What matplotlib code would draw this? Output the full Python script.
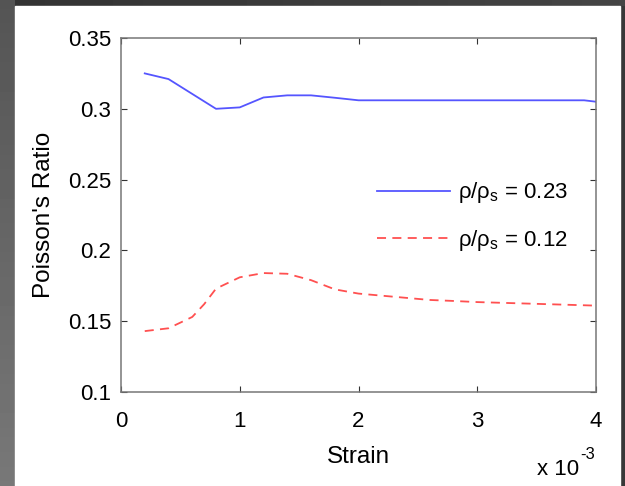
import matplotlib
matplotlib.use('Agg')
import matplotlib.pyplot as plt
import numpy as np
from matplotlib.patches import Rectangle

plt.rcParams['font.family'] = ['Liberation Sans', 'DejaVu Sans']
plt.rcParams['mathtext.fontset'] = 'custom'
plt.rcParams['mathtext.rm'] = 'Liberation Sans'
plt.rcParams['mathtext.it'] = 'Liberation Sans'

# strain in units of 1e-3
strain_hi = [0.2, 0.4, 0.6, 0.8, 1.0, 1.2, 1.4, 1.6, 1.8, 2.0, 2.2, 2.5, 3.0, 3.5, 3.9, 4.0]
poisson_hi = [0.325, 0.321, 0.3105, 0.300, 0.301, 0.308, 0.3095, 0.3095, 0.3078, 0.306,
              0.306, 0.306, 0.306, 0.306, 0.306, 0.305]

strain_lo = [0.2, 0.4, 0.6, 0.7, 0.8, 1.0, 1.2, 1.4, 1.6, 1.8, 2.0, 2.2, 2.4, 2.6, 2.8,
             3.0, 3.2, 3.4, 3.6, 3.8, 4.0]
poisson_lo = [0.143, 0.145, 0.153, 0.162, 0.173, 0.181, 0.184, 0.1835, 0.179, 0.1725,
              0.1695, 0.168, 0.1665, 0.165, 0.1643, 0.1635, 0.163, 0.1625, 0.162, 0.1615, 0.161]

labels = [r'$\mathregular{\rho/\rho_s}$ = 0.23', r'$\mathregular{\rho/\rho_s}$ = 0.12']
xticks = [0, 1, 2, 3, 4]
yticks = [0.1, 0.15, 0.2, 0.25, 0.3, 0.35]
ytick_labels = ['0.1', '0.15', '0.2', '0.25', '0.3', '0.35']

W, H = 625, 486
fig = plt.figure(figsize=(W / 100, H / 100), dpi=100, facecolor='#383838')

# slide background
bg = fig.add_axes([0, 0, 1, 1], zorder=-10)
bg.axis('off')
grad = np.linspace(0.33, 0.47, 100).reshape(-1, 1)
bg.imshow(grad, cmap='gray', vmin=0, vmax=1, extent=(0, 15, H, 0), aspect='auto')
bg.imshow(np.linspace(0.2, 0.27, 100).reshape(1, -1), cmap='gray', vmin=0, vmax=1,
          extent=(15, W, 6, 0), aspect='auto')
bg.add_patch(Rectangle((15, 6), 605, H - 6, color='white'))
bg.set_xlim(0, W)
bg.set_ylim(H, 0)

ax = fig.add_axes([121 / W, 1 - 392 / H, 475 / W, 354 / H])
ax.plot(strain_hi, poisson_hi, color='#5555ff', lw=1.3, label=labels[0])
ax.plot(strain_lo, poisson_lo, color='#ff5050', lw=1.3, ls=(0, (5, 3.5)), label=labels[1])

ax.set_xlim(0, 4)
ax.set_ylim(0.1, 0.35)
ax.set_xticks(xticks)
ax.set_yticks(yticks)
ax.set_yticklabels(ytick_labels)
ax.tick_params(direction='in', length=4, width=0.8, color='#333333', labelsize=16,
               top=True, right=True)
ax.tick_params(axis='x', pad=14)
ax.tick_params(axis='y', pad=7)
for s in ax.spines.values():
    s.set_color('#777777')
    s.set_linewidth(1.1)

ax.set_xlabel('Strain', fontsize=17.5, labelpad=10)
ax.set_ylabel("Poisson's Ratio", fontsize=17.5, labelpad=9)

# axis multiplier, drawn as two pieces
ax.text(0.964, -0.234, 'x 10', transform=ax.transAxes, ha='right', va='baseline',
        fontsize=16)
ax.text(0.967, -0.19, '-3', transform=ax.transAxes, ha='left', va='baseline',
        fontsize=12)

ax.legend(loc='center left', bbox_to_anchor=(0.539, 0.496), frameon=False, fontsize=16,
          handlelength=3.3, handletextpad=0.35, labelspacing=1.0, borderpad=0,
          borderaxespad=0)

fig.savefig('out.png', dpi=100, facecolor=fig.get_facecolor())
